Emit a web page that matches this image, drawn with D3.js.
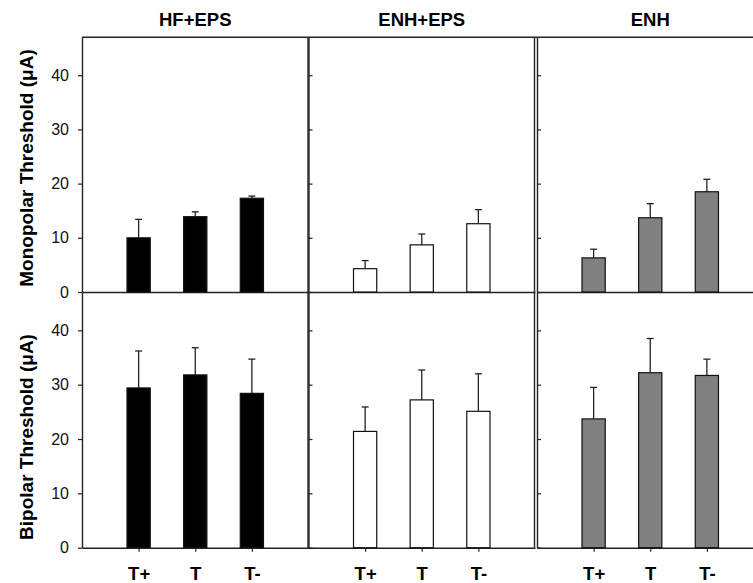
<!DOCTYPE html>
<html>
<head>
<meta charset="utf-8">
<script src="https://cdn.jsdelivr.net/npm/d3@7"></script>
<style>
  body { margin: 0; background: #fff; }
  svg { font-family: "Liberation Sans", Arial, sans-serif; }
</style>
</head>
<body>
<div id="chart"></div>
<script>
const groups = ['HF+EPS', 'ENH+EPS', 'ENH']
const conditions = ['T+', 'T', 'T-']
const rowLabels = ['Monopolar Threshold (\u03bcA)', 'Bipolar Threshold (\u03bcA)']
const yTicks = [0, 10, 20, 30, 40]

// mean values, [group][condition]
const monoMean = [
  [10.0, 13.9, 17.3],
  [4.3, 8.7, 12.6],
  [6.3, 13.7, 18.5],
]
const monoErr = [
  [13.4, 14.8, 17.7],
  [5.8, 10.7, 15.2],
  [7.9, 16.3, 20.8],
]
const biMean = [
  [29.4, 31.8, 28.4],
  [21.4, 27.2, 25.1],
  [23.7, 32.2, 31.7],
]
const biErr = [
  [36.2, 36.8, 34.7],
  [25.9, 32.7, 32.0],
  [29.5, 38.5, 34.7],
]

const fills = ['#000000', '#ffffff', '#808080']

const width = 753
const height = 583
const colLeft = [82, 308.5, 537]
const colWidth = 226.5
const rows = [
  { top: 37.3, bottom: 292, mean: monoMean, err: monoErr, labelY: 168 },
  { top: 292.3, bottom: 547.7, mean: biMean, err: biErr, labelY: 437 },
]

const svg = d3.select('#chart').append('svg')
  .attr('width', width)
  .attr('height', height)

const x = d3.scalePoint().domain(conditions).range([0, colWidth]).padding(1)
const barW = x.step() * 0.41

// top border
svg.append('line')
  .attr('x1', colLeft[0]).attr('x2', width)
  .attr('y1', rows[0].top).attr('y2', rows[0].top)
  .attr('stroke', '#222').attr('stroke-width', 1.4)

groups.forEach((g, gi) => {
  svg.append('text')
    .attr('x', colLeft[gi] + colWidth / 2)
    .attr('y', 26)
    .attr('text-anchor', 'middle')
    .attr('font-size', '18.5px')
    .attr('font-weight', 'bold')
    .text(g)
})

rows.forEach((row, ri) => {
  const y = d3.scaleLinear().domain([0, 47]).range([row.bottom, row.top])

  svg.append('text')
    .attr('transform', `translate(32.5,${row.labelY}) rotate(-90)`)
    .attr('text-anchor', 'middle')
    .attr('font-size', '19px')
    .attr('font-weight', 'bold')
    .text(rowLabels[ri])

  groups.forEach((g, gi) => {
    const panel = svg.append('g').attr('transform', `translate(${colLeft[gi]},0)`)

    // right border of panel
    panel.append('line')
      .attr('x1', colWidth - 0.5).attr('x2', colWidth - 0.5)
      .attr('y1', row.top).attr('y2', row.bottom)
      .attr('stroke', '#222').attr('stroke-width', 1.4)

    const yAxis = (gi === 0 ? d3.axisLeft(y) : d3.axisRight(y))
      .tickValues(yTicks)
      .tickSize(4)
      .tickPadding(9)
      .tickSizeOuter(0)
    const ya = panel.append('g').call(yAxis)
    ya.select('.domain').attr('stroke', '#222').attr('stroke-width', 1.4)
    ya.selectAll('.tick line').attr('stroke', '#222').attr('stroke-width', 1.2)
    if (gi === 0) {
      ya.selectAll('.tick text')
        .attr('font-size', '16px')
        .attr('font-family', '"Liberation Sans", Arial, sans-serif')
        .attr('fill', '#111')
    } else {
      ya.selectAll('.tick text').remove()
    }

    const xAxis = d3.axisBottom(x).tickSize(ri === 1 ? 4 : 0).tickSizeOuter(0)
    const xa = panel.append('g').attr('transform', `translate(0,${row.bottom})`).call(xAxis)
    xa.select('.domain').attr('stroke', '#222').attr('stroke-width', 1.4)
    xa.selectAll('.tick line').attr('stroke', '#222').attr('stroke-width', 1.2)
    if (ri === 1) {
      xa.selectAll('.tick text')
        .attr('y', 32.3)
        .attr('dy', 0)
        .attr('font-size', '18.5px')
        .attr('font-weight', 'bold')
        .attr('font-family', '"Liberation Sans", Arial, sans-serif')
        .attr('fill', '#000')
    } else {
      xa.selectAll('.tick text').remove()
    }

    const data = conditions.map((c, ci) => ({ c, v: row.mean[gi][ci], e: row.err[gi][ci] }))

    panel.selectAll('.err')
      .data(data)
      .join('line')
      .attr('x1', d => x(d.c)).attr('x2', d => x(d.c))
      .attr('y1', d => y(d.v)).attr('y2', d => y(d.e))
      .attr('stroke', '#222').attr('stroke-width', 1.3)

    panel.selectAll('.cap')
      .data(data)
      .join('line')
      .attr('x1', d => x(d.c) - 3.5).attr('x2', d => x(d.c) + 3.5)
      .attr('y1', d => y(d.e)).attr('y2', d => y(d.e))
      .attr('stroke', '#222').attr('stroke-width', 1.3)

    panel.selectAll('.bar')
      .data(data)
      .join('rect')
      .attr('x', d => x(d.c) - barW / 2)
      .attr('width', barW)
      .attr('y', d => y(d.v))
      .attr('height', d => row.bottom - y(d.v))
      .attr('fill', fills[gi])
      .attr('stroke', '#111')
      .attr('stroke-width', 1.2)
  })
})
</script>
</body>
</html>
